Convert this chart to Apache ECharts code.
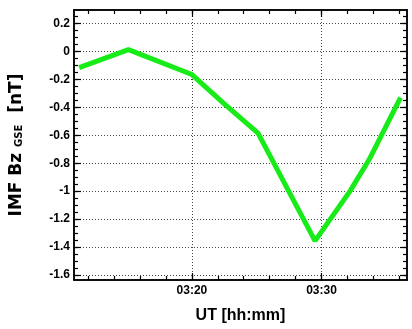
<!DOCTYPE html>
<html>
<head>
<meta charset="utf-8">
<script src="https://cdn.jsdelivr.net/npm/echarts@6/dist/echarts.min.js"></script>
<style>
  html, body { margin: 0; padding: 0; background: #fff; }
  #chart { width: 412px; height: 329px; }
</style>
</head>
<body>
<div id="chart"></div>
<script>
// time in minutes after 03:00 UT
const minutes = [11.3, 15.1, 20.0, 22.5, 25.1, 29.5, 32.2, 33.7, 36.1];
const bzGse = [-0.115, 0.013, -0.165, -0.375, -0.584, -1.356, -1.0, -0.77, -0.33];

const xMajor = [20, 30];
const xMinor = [12, 14, 16, 18, 20, 22, 24, 26, 28, 30, 32, 34, 36];
const yMajor = [-1.6, -1.4, -1.2, -1, -0.8, -0.6, -0.4, -0.2, 0, 0.2];
const yMinor = [-1.6, -1.55, -1.5, -1.45, -1.4, -1.35, -1.3, -1.25, -1.2, -1.15, -1.1, -1.05,
  -1, -0.95, -0.9, -0.85, -0.8, -0.75, -0.7, -0.65, -0.6, -0.55, -0.5, -0.45, -0.4, -0.35,
  -0.3, -0.25, -0.2, -0.15, -0.1, -0.05, 0, 0.05, 0.1, 0.15, 0.2, 0.25];

const X_MIN = 10.9, X_MAX = 36.6;
const Y_MIN = -1.636, Y_MAX = 0.297;

const FONT = 'Liberation Sans';
const lineStyle = { color: '#000', width: 1.5 };

function xAxis(position, ticks, len, major) {
  return {
    type: 'value', min: X_MIN, max: X_MAX, position: position,
    axisLine: { show: true, onZero: false, lineStyle: lineStyle },
    axisTick: { show: true, inside: true, length: len, customValues: ticks, lineStyle: { color: '#000', width: 1.2 } },
    axisLabel: {
      show: major && position === 'bottom', customValues: xMajor, margin: 5,
      fontFamily: FONT, fontWeight: 'bold', fontSize: 12, color: '#000',
      formatter: (v) => '03:' + v
    },
    splitLine: { show: major && position === 'bottom', lineStyle: { color: '#444', type: [1, 2], width: 1 } },
    name: major && position === 'bottom' ? 'UT [hh:mm]' : '',
    nameLocation: 'middle', nameGap: 28,
    nameTextStyle: { fontFamily: FONT, fontWeight: 'bold', fontSize: 16, color: '#000' }
  };
}

function yAxis(position, ticks, len, major) {
  return {
    type: 'value', min: Y_MIN, max: Y_MAX, position: position,
    axisLine: { show: true, onZero: false, lineStyle: lineStyle },
    axisTick: { show: true, inside: true, length: len, customValues: ticks, lineStyle: { color: '#000', width: 1.2 } },
    axisLabel: {
      show: major && position === 'left', customValues: yMajor, margin: 4,
      fontFamily: FONT, fontWeight: 'bold', fontSize: 12, color: '#000',
      formatter: (v) => String(Math.round(v * 10) / 10)
    },
    splitLine: { show: major && position === 'left', lineStyle: { color: '#444', type: [1, 2], width: 1 } },
    name: major && position === 'left' ? 'IMF Bz {sub|GSE}  [nT]' : '',
    nameLocation: 'middle', nameGap: 49,
    nameTextStyle: {
      fontFamily: 'DejaVu Sans', fontWeight: 'bold', fontSize: 17, color: '#000',
      rich: { sub: { fontFamily: 'DejaVu Sans', fontWeight: 'bold', fontSize: 10, color: '#000', padding: [6, 0, 0, 0] } }
    }
  };
}

const chart = echarts.init(document.getElementById('chart'));
chart.setOption({
  animation: false,
  grid: { left: 72, right: 5, top: 10, bottom: 47 },
  xAxis: [
    xAxis('bottom', xMajor, 7, true),
    xAxis('top', xMajor, 7, true),
    xAxis('bottom', xMinor, 4, false),
    xAxis('top', xMinor, 4, false)
  ],
  yAxis: [
    yAxis('left', yMajor, 7, true),
    yAxis('right', yMajor, 7, true),
    yAxis('left', yMinor, 4, false),
    yAxis('right', yMinor, 4, false)
  ],
  series: [{
    type: 'line',
    xAxisIndex: 0, yAxisIndex: 0,
    data: minutes.map((m, i) => [m, bzGse[i]]),
    symbol: 'none',
    lineStyle: { color: '#18ec18', width: 5 },
    z: 5
  }]
});
</script>
</body>
</html>
